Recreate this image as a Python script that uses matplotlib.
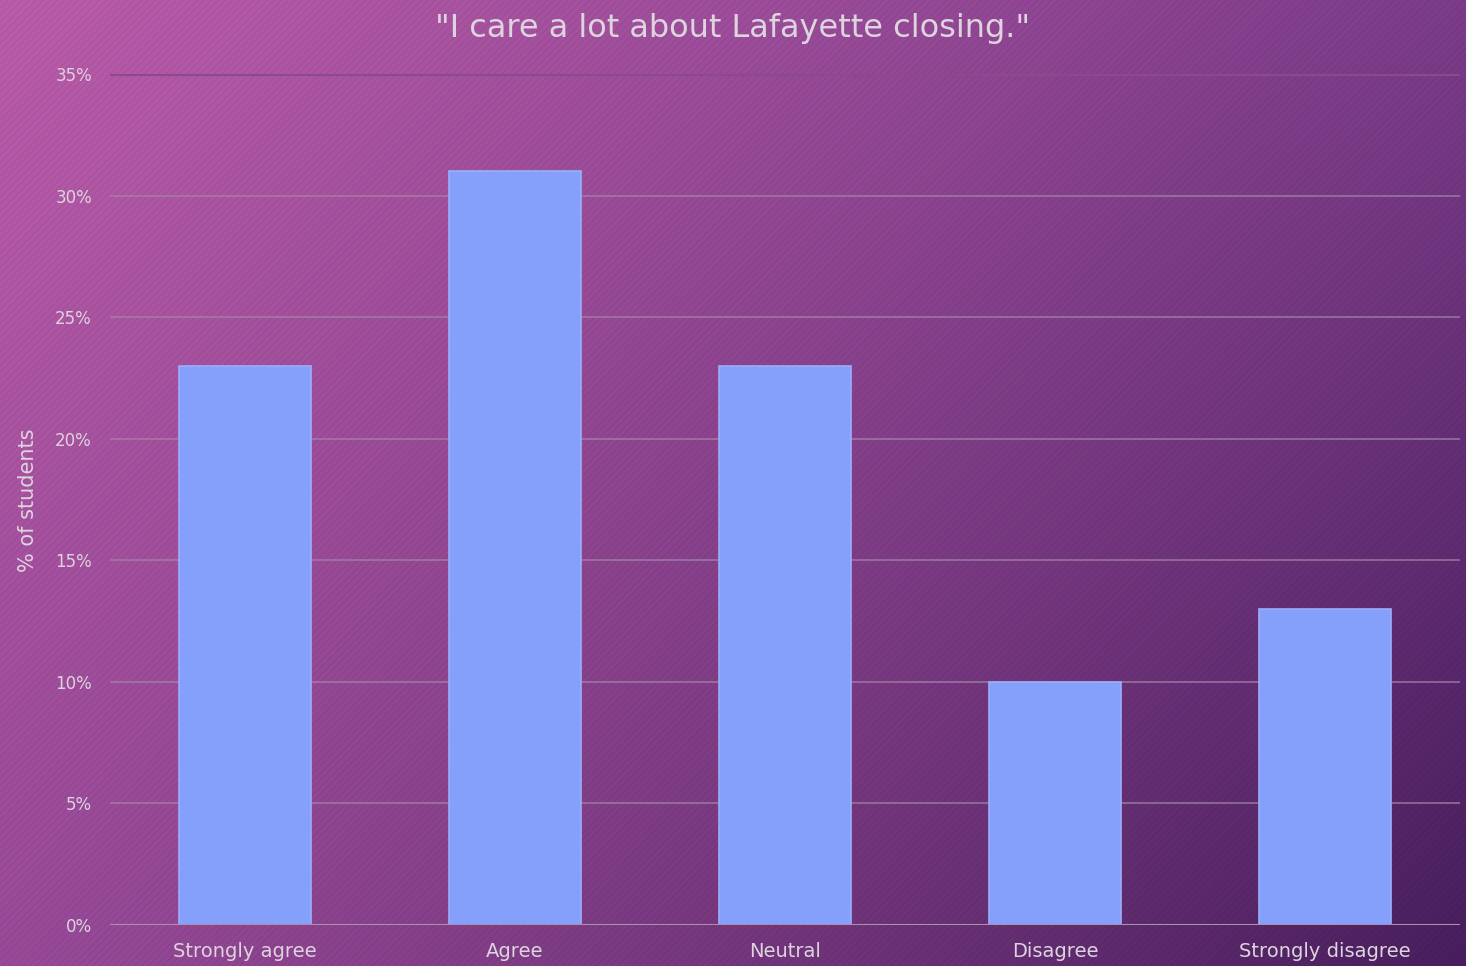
import numpy as np
import matplotlib
matplotlib.use("Agg")
import matplotlib.pyplot as plt

categories = ["Strongly agree", "Agree", "Neutral", "Disagree", "Strongly disagree"]
values = [23, 31, 23, 10, 13]
yticks = [0, 5, 10, 15, 20, 25, 30, 35]
ytick_labels = ["0%", "5%", "10%", "15%", "20%", "25%", "30%", "35%"]
title = "\"I care a lot about Lafayette closing.\""
ylabel = "% of students"

W, H = 1466, 966
fig = plt.figure(figsize=(W / 100, H / 100), dpi=100)

# background gradient with faint diagonal stripes
yy, xx = np.mgrid[0:H, 0:W]
u = xx / W
v = yy / H
tl = np.array([186, 92, 170]) / 255
tr = np.array([124, 60, 138]) / 255
bl = np.array([152, 74, 152]) / 255
br = np.array([72, 30, 94]) / 255
uu = u ** 1.15
img = (tl[None, None, :] * ((1 - uu) * (1 - v))[..., None]
       + tr[None, None, :] * (uu * (1 - v))[..., None]
       + bl[None, None, :] * ((1 - uu) * v)[..., None]
       + br[None, None, :] * (uu * v)[..., None])
stripes = ((xx + yy) % 7 < 2)
img = img * np.where(stripes, 0.95, 1.0)[..., None]
bg = fig.add_axes([0, 0, 1, 1])
bg.imshow(img, aspect="auto", extent=[0, 1, 0, 1], zorder=0)
bg.set_axis_off()

ax = fig.add_axes([110 / W, 1 - 925 / H, (1460 - 110) / W, (925 - 74) / H])
ax.set_facecolor("none")
x = np.arange(len(categories))
ax.bar(x, values, width=0.49, color="#84a0fa", edgecolor="#9aaefa", linewidth=1.2, zorder=3)
ax.set_xlim(-0.5, len(categories) - 0.5)
ax.set_ylim(0, 35)
ax.set_yticks(yticks)
ax.set_yticklabels(ytick_labels)
ax.set_xticks(x)
ax.set_xticklabels(categories)
for t in yticks:
    if t == 35:
        ax.axhline(t, color="#8a4a8c", lw=3, zorder=1)
    elif t == 0:
        ax.axhline(t, color="#a890ae", lw=1.5, zorder=4)
    else:
        ax.axhline(t, color="#a284a6", lw=1.1, alpha=0.85, zorder=1)
for s in ax.spines.values():
    s.set_visible(False)
txtc = "#ddd4de"
ax.tick_params(axis="both", length=0, colors=txtc)
ax.tick_params(axis="y", labelsize=12, pad=13)
ax.tick_params(axis="x", labelsize=14, pad=12)
fig.text(0.5, 1 - 28 / H, title, ha="center", va="center", fontsize=23, color=txtc)
fig.text(28 / W, 1 - 500 / H, ylabel, ha="center", va="center", rotation=90, fontsize=15, color=txtc)

fig.savefig("out.png", dpi=100)
